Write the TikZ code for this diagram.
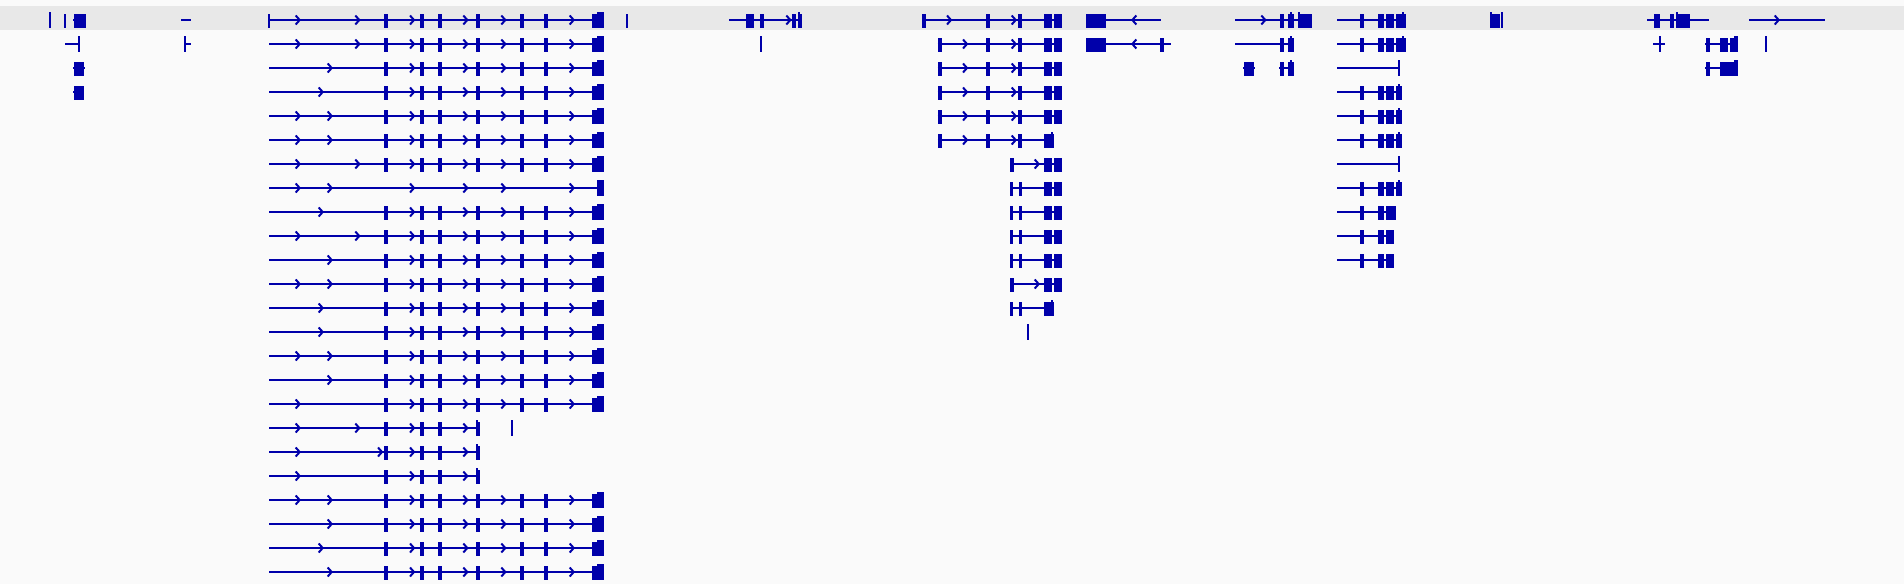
\documentclass[tikz,border=0pt]{standalone}
\definecolor{gb}{RGB}{0,0,170}
\definecolor{bgc}{RGB}{250,250,250}
\definecolor{band}{RGB}{232,232,232}
\tikzset{gl/.style={draw=gb,line width=1pt}}
% intron line: row y, x1, x2
\newcommand\GL[3]{\draw[gl] (#2,#1) -- (#3,#1);}
% exon block
\newcommand\GE[3]{\fill[gb] (#2,#1-6) rectangle (#3,#1+8);}
% tall block / tick
\newcommand\GN[3]{\fill[gb] (#2,#1-8) rectangle (#3,#1+8);}
% right chevron
\newcommand\GR[2]{\draw[gl] (#2-2,#1-4.5) -- (#2+2,#1) -- (#2-2,#1+4.5);}
% left chevron
\newcommand\GLf[2]{\draw[gl] (#2+2,#1-4.5) -- (#2-2,#1) -- (#2+2,#1+4.5);}
% main gene, full row
\newcommand\MG[2]{%
  \GL{#1}{269}{597}
  \foreach \cx in {#2,412,465.3,503.3,571.7} {\GR{#1}{\cx}}
  \foreach \ex in {384,420,438,476,520,544} {\GE{#1}{\ex}{\ex+4}}
  \GE{#1}{592.3}{597}\GN{#1}{596.7}{603.7}}
% main gene, short row
\newcommand\MS[2]{%
  \GL{#1}{269}{478}
  \foreach \cx in {#2,412,465.3} {\GR{#1}{\cx}}
  \foreach \ex in {384,420,438} {\GE{#1}{\ex}{\ex+4}}
  \GE{#1}{476}{479.7}\GN{#1}{476}{478}}
% gene 922-1062 rows 2-5
\newcommand\MA[1]{%
  \GL{#1}{937.7}{1062}\GE{#1}{937.7}{941.7}\GR{#1}{965}\GE{#1}{986}{990}
  \GR{#1}{1013.7}\GE{#1}{1018}{1022}\GE{#1}{1044}{1052}\GE{#1}{1054}{1062}}
\newcommand\MC[1]{%
  \GL{#1}{1010}{1062}\GE{#1}{1010}{1014}\GR{#1}{1036.7}\GE{#1}{1044}{1052}\GE{#1}{1054}{1062}}
\newcommand\MD[1]{%
  \GL{#1}{1010}{1062}\GE{#1}{1010}{1013.3}\GE{#1}{1018.7}{1022}\GE{#1}{1044}{1052}\GE{#1}{1054}{1062}}
% gene 1337
\newcommand\MBa[1]{%
  \GL{#1}{1337}{1406}\GE{#1}{1360}{1364}\GE{#1}{1378}{1384}\GE{#1}{1386}{1394}\GE{#1}{1396}{1406}\GN{#1}{1402}{1404}}
\newcommand\MBb[1]{%
  \GL{#1}{1337}{1402}\GE{#1}{1360}{1364}\GE{#1}{1378}{1384}\GE{#1}{1386}{1394}\GE{#1}{1396}{1402}\GN{#1}{1398}{1400}}
\newcommand\MBc[1]{\GL{#1}{1337}{1400}\GN{#1}{1398}{1400}}
\newcommand\MBd[2]{%
  \GL{#1}{1337}{#2}\GE{#1}{1360}{1364}\GE{#1}{1378}{1384}\GE{#1}{1386}{#2}}
\begin{document}
\begin{tikzpicture}[x=0.5pt,y=-0.5pt]
\fill[bgc] (0,0) rectangle (1904,584);
\useasboundingbox (0,0) rectangle (1904,584);
\fill[band] (0,6) rectangle (1904,30);
% left cluster
\GN{20}{49}{51}\GE{20}{64}{66}\GL{20}{73}{75}\GE{20}{74}{86}
\GL{44}{65}{79}\GN{44}{78}{80}
\GL{68}{73}{85}\GE{68}{74}{84}
\GL{92}{73}{75}\GE{92}{74}{84}
\GL{20}{181}{191}
\GN{44}{184}{186}\GL{44}{186}{191}
% main gene
\GE{20}{268}{270}
\MG{20}{297.7,357.3}
\GE{20}{626}{628}
\MG{44}{297.7,357.3}
\MG{68}{329.7}
\MG{92}{320.7}
\MG{116}{297.7,329.7}
\MG{140}{297.7,329.7}
\MG{164}{297.7,357.3}
\GL{188}{269}{597}
\foreach \cx in {297.7,329.7,412,465.3,503.3,571.7} {\GR{188}{\cx}}
\GN{188}{596.7}{603.7}
\MG{212}{320.7}
\MG{236}{297.7,357.3}
\MG{260}{329.7}
\MG{284}{297.7,329.7}
\MG{308}{320.7}
\MG{332}{320.7}
\MG{356}{297.7,329.7}
\MG{380}{329.7}
\MG{404}{297.7}
\MS{428}{297.7,357.3}\GN{428}{511}{513}
\MS{452}{297.7,380}
\MS{476}{297.7}
\MG{500}{297.7,329.7}
\MG{524}{329.7}
\MG{548}{320.7}
\MG{572}{329.7}
% gene 729-802
\GL{20}{729}{802}\GE{20}{746}{754}\GE{20}{760}{764}\GR{20}{788.3}
\GE{20}{792.3}{795.7}\GE{20}{798.3}{801.7}\GN{20}{798.3}{800}
\GN{44}{760}{762}
% gene 922-1062
\GL{20}{922}{1062}\GE{20}{922}{926}\GR{20}{949}\GE{20}{986}{990}\GR{20}{1013.7}
\GE{20}{1018}{1022}\GE{20}{1044}{1052}\GE{20}{1054}{1062}
\MA{44}\MA{68}\MA{92}\MA{116}
\GL{140}{937.7}{1054}\GE{140}{937.7}{941.7}\GR{140}{965}\GE{140}{986}{990}
\GR{140}{1013.7}\GE{140}{1018}{1022}\GE{140}{1044}{1054}\GN{140}{1050.7}{1052.7}
\MC{164}\MD{188}\MD{212}\MD{236}\MD{260}\MC{284}
\GL{308}{1010}{1054}\GE{308}{1010}{1013.3}\GE{308}{1018.7}{1022}\GE{308}{1044}{1054}\GN{308}{1050.7}{1052.7}
\GN{332}{1026.7}{1028.7}
% minus-strand gene
\GE{20}{1086}{1106}\GL{20}{1106}{1161}\GLf{20}{1134.3}
\GE{44}{1086}{1106}\GL{44}{1106}{1171}\GLf{44}{1134.3}\GE{44}{1160}{1164}
% gene 1235-1312
\GL{20}{1235}{1298}\GR{20}{1263.3}\GE{20}{1280}{1284}\GE{20}{1288}{1294}\GN{20}{1290}{1292}
\GE{20}{1298}{1312}\GN{20}{1298}{1300}
\GL{44}{1235}{1294}\GE{44}{1280}{1284}\GE{44}{1288}{1294}\GN{44}{1290}{1292}
\GL{68}{1243}{1255}\GE{68}{1244}{1254}\GL{68}{1279}{1294}\GE{68}{1280}{1284}\GE{68}{1288}{1294}\GN{68}{1290}{1292}
% gene 1337-1406
\MBa{20}\MBa{44}\MBc{68}\MBb{92}\MBb{116}\MBb{140}\MBc{164}\MBb{188}
\MBd{212}{1396}\MBd{236}{1394}\MBd{260}{1394}
% gene 1490
\GE{20}{1490}{1500}\GN{20}{1490}{1492}\GN{20}{1501}{1503}
% gene 1647-1738
\GL{20}{1647}{1709}\GE{20}{1654}{1660}\GE{20}{1670}{1674}\GE{20}{1676}{1690}\GN{20}{1676}{1678}
\GL{44}{1653}{1665}\GN{44}{1659}{1661}
\GL{44}{1705}{1730}\GE{44}{1706}{1710}\GE{44}{1720}{1728}\GE{44}{1730}{1738}\GN{44}{1734}{1738}
\GN{44}{1765}{1767}
\GL{68}{1705}{1720}\GE{68}{1706}{1710}\GE{68}{1720}{1738}\GN{68}{1734}{1738}
% gene 1749-1825
\GL{20}{1749}{1825}\GR{20}{1776.7}
\end{tikzpicture}
\end{document}
